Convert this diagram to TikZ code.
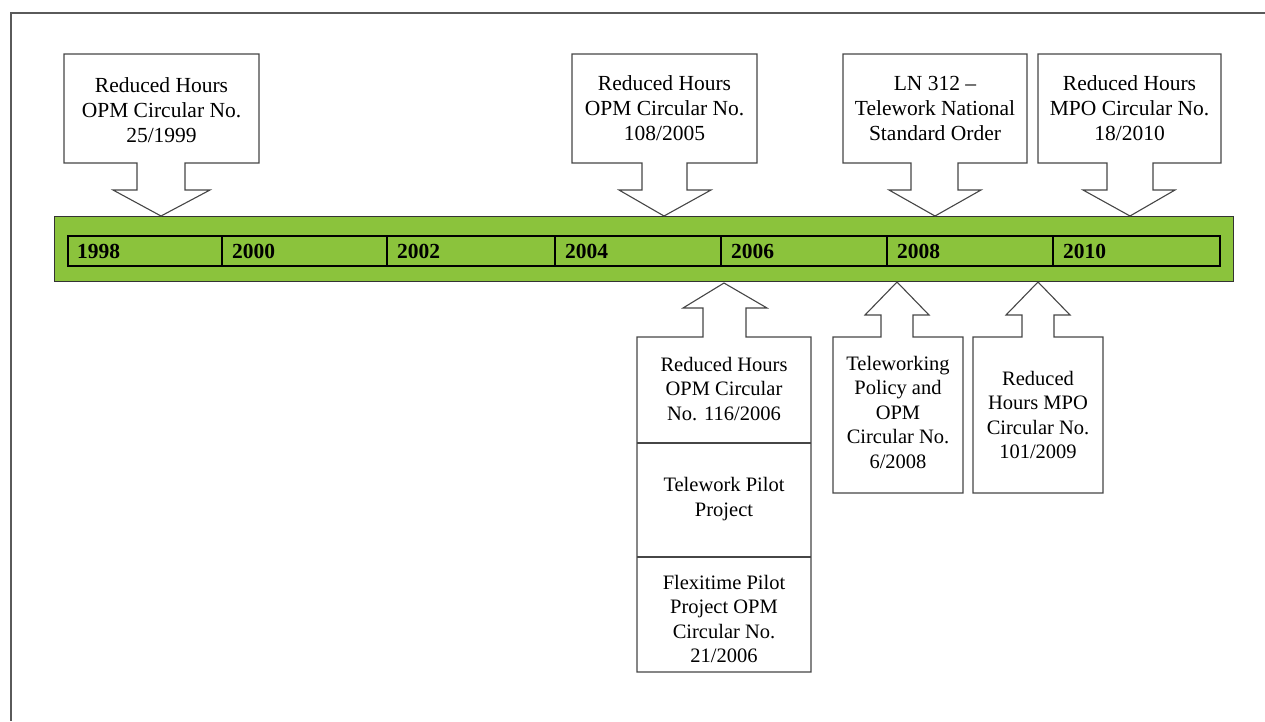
\documentclass[tikz,border=0pt]{standalone}
\usepackage{fontspec}
\setmainfont{Liberation Serif}
\definecolor{bargreen}{RGB}{139,195,60}
\definecolor{frameg}{RGB}{90,90,90}
\definecolor{outl}{RGB}{70,70,70}
\begin{document}
\begin{tikzpicture}[x=1pt,y=-1pt,
  callout/.style={draw=outl,line width=1.1pt,fill=white,line join=miter},
  ctext/.style={align=center,font=\fontsize{20.5}{24.5}\selectfont,inner sep=0pt},
  ctextbig/.style={align=center,font=\fontsize{21.5}{25}\selectfont,inner sep=0pt},
  yeartext/.style={anchor=west,font=\fontsize{21.5}{24}\selectfont\bfseries,inner sep=0pt},
  strip/.style={draw=black,line width=2.6pt},
]
\useasboundingbox (0,0) rectangle (1265,721);
% outer frame (top and left only)
\draw[frameg,line width=1.6pt] (1265,13) -- (11,13) -- (11,721);

% green bar
\node[draw=black!80,line width=0.8pt,fill=bargreen,minimum width=1179pt,minimum height=65pt,inner sep=0pt,anchor=north west] (bar) at (54,216) {};
\draw[strip] (68,236) rectangle (1220,266);
\foreach \x in {222,387,555,721,887,1053} \draw[strip] (\x,236) -- (\x,266);
\node[yeartext] (y1998) at (77,251) {1998};
\node[yeartext] (y2000) at (232,251) {2000};
\node[yeartext] (y2002) at (397,251) {2002};
\node[yeartext] (y2004) at (565,251) {2004};
\node[yeartext] (y2006) at (731,251) {2006};
\node[yeartext] (y2008) at (897,251) {2008};
\node[yeartext] (y2010) at (1063,251) {2010};

% top callouts
\draw[callout] (64,54) -- (259,54) -- (259,163) -- (185,163) -- (185,190) -- (210,190) -- (161,216) -- (113,190) -- (137,190) -- (137,163) -- (64,163) -- cycle;
\node[ctextbig] (c1999) at (161.5,110) {Reduced Hours\\OPM Circular No.\\25/1999};

\draw[callout] (572,54) -- (757,54) -- (757,163) -- (687,163) -- (687,190) -- (711,190) -- (664,216) -- (619,190) -- (642,190) -- (642,163) -- (572,163) -- cycle;
\node[ctextbig] (c2005) at (664.5,108) {Reduced Hours\\OPM Circular No.\\108/2005};

\draw[callout] (843,54) -- (1027,54) -- (1027,163) -- (958,163) -- (958,190) -- (981,190) -- (935,216) -- (889,190) -- (911,190) -- (911,163) -- (843,163) -- cycle;
\node[ctextbig] (cln) at (935,108) {LN 312 --\\Telework National\\Standard Order};

\draw[callout] (1038,54) -- (1221,54) -- (1221,163) -- (1153,163) -- (1153,190) -- (1175,190) -- (1130,216) -- (1083,190) -- (1107,190) -- (1107,163) -- (1038,163) -- cycle;
\node[ctextbig] (c2010) at (1129.5,108) {Reduced Hours\\MPO Circular No.\\18/2010};

% bottom callouts
\draw[callout] (637,672) -- (811,672) -- (811,337) -- (746,337) -- (746,308) -- (767,308) -- (724,283) -- (683,308) -- (703,308) -- (703,337) -- (637,337) -- cycle;
\draw[outl,line width=1.1pt] (637,443) -- (811,443) (637,557) -- (811,557);
\node[ctext] (c2006a) at (724,389) {Reduced Hours\\OPM Circular\\No. 116/2006};
\node[ctext] (c2006b) at (724,499) {Telework Pilot\\Project};
\node[ctext] (c2006c) at (724,619) {Flexitime Pilot\\Project OPM\\Circular No.\\21/2006};

\draw[callout] (833,493) -- (963,493) -- (963,337) -- (913,337) -- (913,315) -- (929,315) -- (897,282) -- (865,315) -- (881,315) -- (881,337) -- (833,337) -- cycle;
\node[ctext] (c2008) at (898,412) {Teleworking\\Policy and\\OPM\\Circular No.\\6/2008};

\draw[callout] (973,493) -- (1103,493) -- (1103,337) -- (1054,337) -- (1054,315) -- (1070,315) -- (1038,282) -- (1006,315) -- (1022,315) -- (1022,337) -- (973,337) -- cycle;
\node[ctext] (c2009) at (1038,415) {Reduced\\Hours MPO\\Circular No.\\101/2009};
\end{tikzpicture}
\end{document}
